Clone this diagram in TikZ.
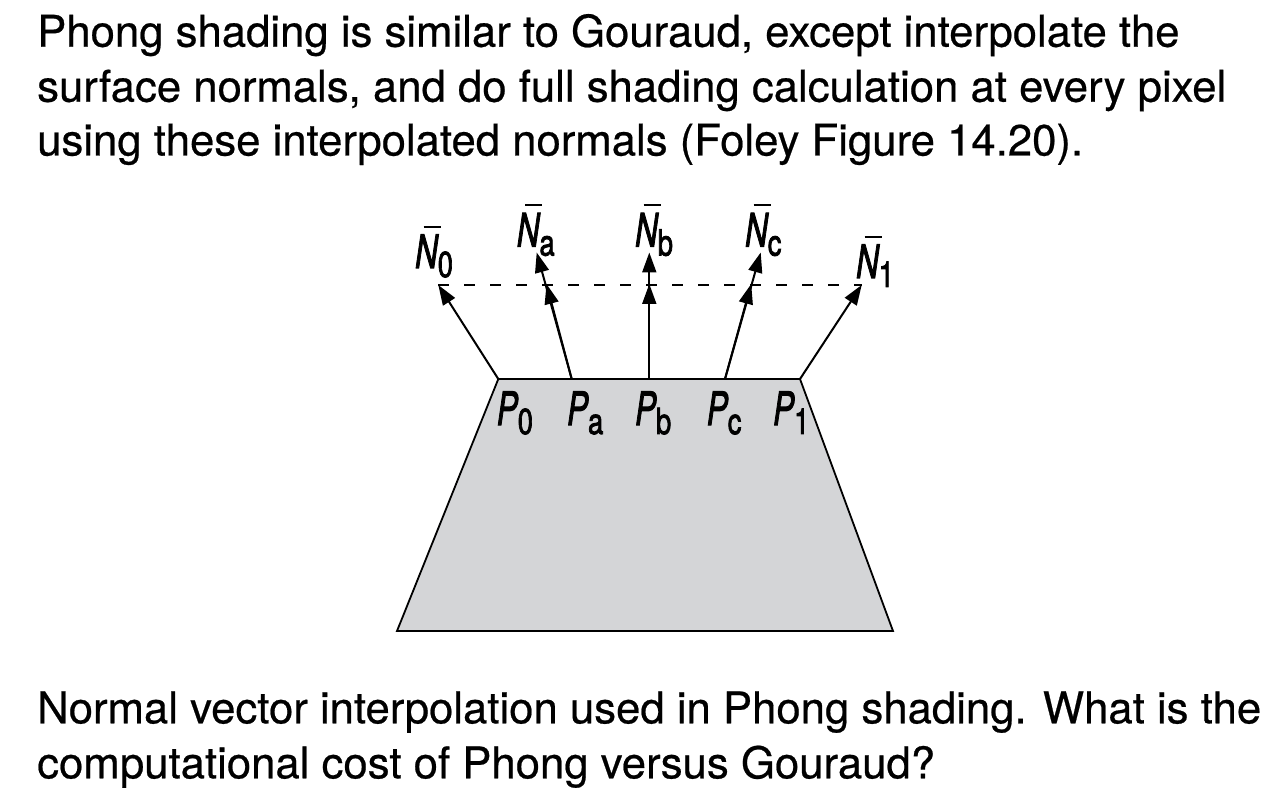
\documentclass[tikz,border=0pt]{standalone}
\usepackage{fontspec}
\setmainfont[FakeBold=0.5]{TeX Gyre Heros}
\newfontfamily\labfont[FakeBold=2.5]{TeX Gyre Heros}
\usetikzlibrary{arrows.meta}
\definecolor{facegray}{RGB}{212,213,215}
\newcommand\lblmain[1]{{\labfont\fontsize{46}{46}\selectfont\scalebox{0.68}[1]{\itshape #1}}}
\newcommand\lblsub[1]{{\labfont\fontsize{36}{36}\selectfont\raisebox{-9pt}{\scalebox{0.76}[1]{#1}}}}
\newcommand\nbar{\makebox[0pt][l]{\hspace{8.5pt}\rule[40pt]{17pt}{2.4pt}}}
\newcommand\Nlab[1]{\nbar\lblmain{N}\lblsub{#1}}
\newcommand\Plab[1]{\lblmain{P}\lblsub{#1}}
\tikzset{
  txt/.style={anchor=base west, inner sep=0pt, font=\fontsize{43.7}{54}\selectfont},
  lab/.style={anchor=base west, inner sep=0pt},
  vec/.style={line width=2pt, -{Triangle[length=20pt,width=14pt]}},
  dashln/.style={line width=1.8pt, dash pattern=on 11pt off 15pt},
}
\begin{document}
\begin{tikzpicture}[x=1pt,y=-1pt]
\useasboundingbox (0,0) rectangle (1270,794);
% text
\node[txt] (t1) at (37,46.7) {Phong shading is similar to Gouraud, except interpolate the};
\node[txt] (t2) at (37,101.7) {surface normals, and do full shading calculation at every pixel};
\node[txt] (t3) at (37,155.5) {using these interpolated normals (Foley Figure 14.20).};
\node[txt] (b1) at (37,723.3) {Normal vector interpolation used in Phong shading. What is the};
\node[txt] (b2) at (37,778.3) {computational cost of Phong versus Gouraud?};
% polygon
\coordinate (P0) at (498.3,379);
\coordinate (Pa) at (571.7,379);
\coordinate (Pb) at (649.3,379);
\coordinate (Pc) at (725,379);
\coordinate (P1) at (800,379);
\coordinate (BL) at (397,631);
\coordinate (BR) at (893,631);
\draw[fill=facegray, line width=1.8pt, line join=miter] (P0) -- (P1) -- (BR) -- (BL) -- cycle;
% normal tips
\coordinate (T0) at (438.3,285);
\coordinate (Ta) at (536.7,252.5);
\coordinate (Tb) at (649.3,252.5);
\coordinate (Tc) at (760.7,252.5);
\coordinate (T1) at (861.7,285);
\coordinate (Ma) at (546.5,284);
\coordinate (Mb) at (649.3,284);
\coordinate (Mc) at (751.2,284);
\draw[dashln] (T0) -- (T1);
\draw[vec] (P0) -- (T0);
\draw[vec] (Pa) -- (Ta);
\draw[vec] (Pb) -- (Tb);
\draw[vec] (Pc) -- (Tc);
\draw[vec] (P1) -- (T1);
\draw[vec] (Pa) -- (Ma);
\draw[vec] (Pb) -- (Mb);
\draw[vec] (Pc) -- (Mc);
% labels
\node[lab] (n0) at (415,268) {\Nlab{0}};
\node[lab] (na) at (516.7,246.5) {\Nlab{a}};
\node[lab] (nb) at (635,246.5) {\Nlab{b}};
\node[lab] (nc) at (745,246.5) {\Nlab{c}};
\node[lab] (n1) at (856,278) {\Nlab{1}};
\node[lab] (p0) at (496.7,425) {\Plab{0}};
\node[lab] (pa) at (567,425) {\Plab{a}};
\node[lab] (pb) at (635,425) {\Plab{b}};
\node[lab] (pc) at (706.7,425) {\Plab{c}};
\node[lab] (p1) at (773,425) {\Plab{1}};
\end{tikzpicture}
\end{document}
